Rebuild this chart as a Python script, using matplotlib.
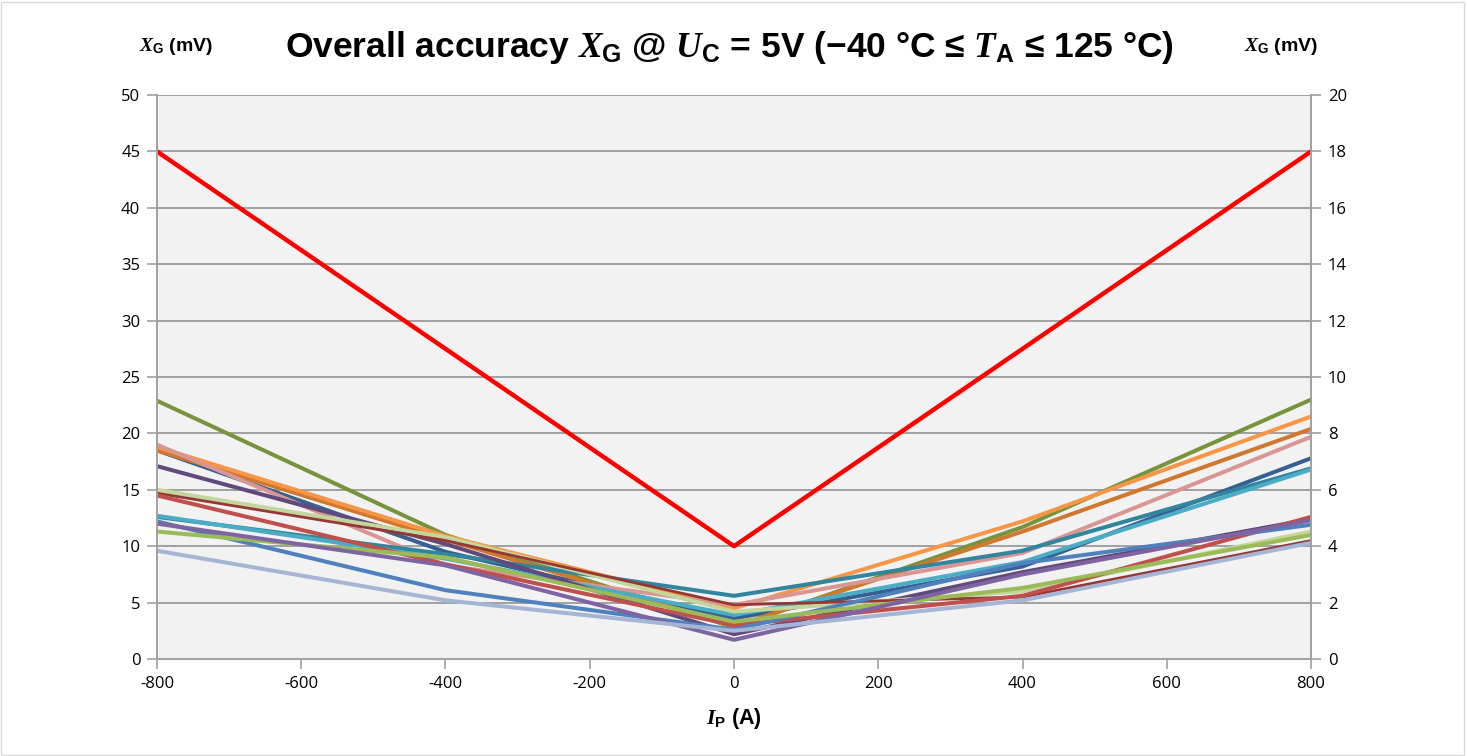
import matplotlib.pyplot as plt
from matplotlib.patches import Rectangle

plt.rcParams["mathtext.fontset"] = "custom"
plt.rcParams["mathtext.it"] = "Liberation Serif:italic:bold"
plt.rcParams["mathtext.bf"] = "Liberation Sans:bold"
plt.rcParams["mathtext.rm"] = "Liberation Sans:bold"
plt.rcParams["axes.unicode_minus"] = False

current = [-800, -400, 0, 400, 800]
limit = [45, 27.5, 10, 27.5, 45]

# measured curves (mV), one per sample
series = {
    "dark_blue": [18.5, 9.5, 3.6, 8.2, 17.8],
    "olive": [22.9, 11.0, 2.8, 11.7, 23.0],
    "dark_orange": [18.5, 10.6, 2.9, 11.3, 20.4],
    "orange": [18.8, 10.9, 4.5, 12.2, 21.5],
    "pink": [19.0, 8.3, 4.8, 9.4, 19.7],
    "dark_teal": [12.6, 9.3, 5.6, 9.6, 16.9],
    "aqua": [12.7, 8.9, 3.9, 8.6, 16.8],
    "dark_purple": [17.1, 10.2, 2.2, 7.7, 12.4],
    "light_green": [15.0, 10.8, 4.2, 6.0, 11.3],
    "dark_red": [14.7, 10.5, 4.8, 5.5, 10.5],
    "red": [14.5, 8.4, 3.0, 5.6, 12.6],
    "blue": [12.2, 6.1, 2.6, 8.5, 11.9],
    "green": [11.3, 9.0, 3.3, 6.3, 11.0],
    "purple": [12.0, 8.3, 1.7, 7.5, 12.3],
    "light_blue": [9.6, 5.2, 2.5, 5.2, 10.3],
}
colors = {
    "olive": "#77933C",
    "orange": "#F79646",
    "dark_orange": "#D0782E",
    "pink": "#D99694",
    "dark_blue": "#376092",
    "dark_teal": "#31859C",
    "aqua": "#4BACC6",
    "dark_purple": "#604A7B",
    "light_green": "#C3D69B",
    "dark_red": "#953735",
    "red": "#C0504D",
    "blue": "#4F81BD",
    "green": "#9BBB59",
    "purple": "#8064A2",
    "light_blue": "#A5B6D5",
}
widths = {"dark_red": 2.0}

xticks = [-800, -600, -400, -200, 0, 200, 400, 600, 800]
yticks_left = [0, 5, 10, 15, 20, 25, 30, 35, 40, 45, 50]
yticks_right = [0, 2, 4, 6, 8, 10, 12, 14, 16, 18, 20]

fig = plt.figure(figsize=(14.67, 7.56), dpi=100)
ax = fig.add_axes([0.107, 0.1283, 0.7867, 0.746])
fig.patches.append(Rectangle((0.001, 0.001), 0.997, 0.997, transform=fig.transFigure,
                             fill=False, edgecolor="#D9D9D9", linewidth=1))

ax.set_facecolor("#F2F2F2")
for name, vals in series.items():
    ax.plot(current, vals, color=colors[name], lw=widths.get(name, 2.9), solid_capstyle="round")
ax.plot(current, limit, color="#FF0000", lw=3.2)

ax.set_xlim(-800, 800)
ax.set_ylim(0, 50)
ax.set_xticks(xticks)
ax.set_yticks(yticks_left)
ax.grid(axis="y", color="#A0A0A0", lw=1.4)
ax.set_axisbelow(True)
for s in ax.spines.values():
    s.set_visible(False)
ax.spines["left"].set_visible(True)
ax.spines["bottom"].set_visible(True)
ax.spines["left"].set_color("#A0A0A0")
ax.spines["bottom"].set_color("#A0A0A0")
ax.spines["left"].set_linewidth(1.4)
ax.spines["bottom"].set_linewidth(1.4)
ax.tick_params(length=7, width=1.2, color="#A0A0A0", labelsize=12, pad=5)

ax2 = ax.twinx()
ax2.set_ylim(0, 20)
ax2.set_yticks(yticks_right)
for s in ax2.spines.values():
    s.set_visible(False)
ax2.spines["right"].set_visible(True)
ax2.spines["right"].set_color("#A0A0A0")
ax2.spines["right"].set_linewidth(1.4)
ax2.tick_params(length=7, width=1.2, color="#A0A0A0", labelsize=12, pad=5)

for lab in ax.get_xticklabels() + ax.get_yticklabels() + ax2.get_yticklabels():
    lab.set_fontfamily("Open Sans")

fig.text(0.4975, 0.937, r"Overall accuracy $X_\mathbf{G}$ @ $U_\mathbf{C}$ = 5V (−40 °C ≤ $T_\mathbf{A}$ ≤ 125 °C)",
         ha="center", va="center", fontsize=25.5, fontweight="bold", family="Liberation Sans")
fig.text(0.120, 0.938, r"$X_\mathbf{G}$ (mV)", ha="center", va="center", fontsize=14,
         fontweight="bold", family="Liberation Sans")
fig.text(0.8735, 0.938, r"$X_\mathbf{G}$ (mV)", ha="center", va="center", fontsize=14,
         fontweight="bold", family="Liberation Sans")
fig.text(0.5, 0.05, r"$I_\mathbf{P}$ (A)", ha="center", va="center", fontsize=15.5,
         fontweight="bold", family="Liberation Sans")

fig.savefig("out.png", dpi=100)
